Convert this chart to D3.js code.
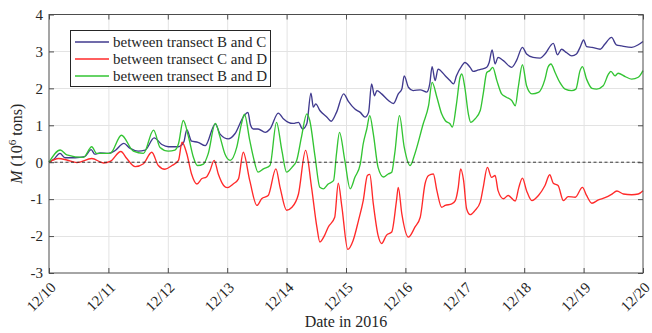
<!DOCTYPE html>
<html>
<head>
<meta charset="utf-8">
<script src="https://cdn.jsdelivr.net/npm/d3@7"></script>
<style>
  html, body { margin: 0; padding: 0; background: #fff; }
  svg { display: block; }
  text { font-family: "Liberation Serif", "Times New Roman", serif; fill: #262626; }
</style>
</head>
<body>
<svg id="chart" width="652" height="333"></svg>
<script>
// Time in days after 12/10 00:00, value in 10^6 tons
const dayTicks = ["12/10", "12/11", "12/12", "12/13", "12/14", "12/15", "12/16", "12/17", "12/18", "12/19", "12/20"];
const valueTicks = [-3, -2, -1, 0, 1, 2, 3, 4];

const seriesNames = ["between transect B and C", "between transect C and D", "between transect B and D"];
const seriesColors = ["#403a8e", "#ff2a2a", "#33c433"];

const transectBC = [
  [0,0],[0.08,0.08],[0.185,0.24],[0.27,0.12],[0.44,0.12],[0.6,0.15],[0.71,0.34],[0.77,0.22],[0.86,0.25],[1.0,0.24],
  [1.11,0.31],[1.26,0.51],[1.36,0.38],[1.5,0.3],[1.62,0.33],[1.77,0.66],[1.9,0.48],[2.01,0.42],[2.18,0.42],[2.27,0.55],
  [2.32,0.88],[2.4,0.57],[2.51,0.54],[2.63,0.45],[2.8,1.04],[2.88,0.76],[3.02,0.63],[3.13,0.77],[3.28,1.25],[3.35,1.35],
  [3.39,1.02],[3.44,0.9],[3.52,0.9],[3.64,0.81],[3.72,0.9],[3.86,1.33],[3.95,1.17],[4.03,1.08],[4.11,1.05],[4.2,1.08],
  [4.27,0.9],[4.34,1.04],[4.41,1.87],[4.45,1.49],[4.49,1.58],[4.56,1.4],[4.68,1.22],[4.75,1.11],[4.84,1.35],[4.96,1.85],
  [5.04,1.65],[5.15,1.44],[5.24,1.35],[5.32,1.22],[5.38,1.35],[5.43,2.12],[5.48,1.8],[5.52,1.94],[5.6,1.85],[5.71,1.68],
  [5.8,1.59],[5.88,1.85],[5.94,1.98],[5.98,2.34],[6.05,2.03],[6.13,1.94],[6.25,1.96],[6.36,1.9],[6.41,2.12],[6.45,2.59],
  [6.5,2.21],[6.55,2.52],[6.67,2.34],[6.75,2.21],[6.81,2.12],[6.86,2.34],[6.95,2.61],[7.0,2.7],[7.09,2.57],[7.14,2.46],
  [7.23,2.5],[7.28,2.52],[7.37,2.57],[7.41,2.7],[7.46,3.04],[7.51,2.66],[7.56,2.84],[7.65,2.75],[7.79,2.57],[7.87,2.75],
  [7.97,3.11],[8.04,2.93],[8.15,2.84],[8.27,2.82],[8.35,2.93],[8.49,3.22],[8.56,2.91],[8.63,3.06],[8.71,2.97],[8.8,2.88],
  [8.88,2.93],[8.94,3.11],[9.0,3.31],[9.05,3.13],[9.14,3.11],[9.28,3.06],[9.36,3.2],[9.47,3.38],[9.55,3.18],[9.64,3.15],
  [9.81,3.11],[9.92,3.18],[10,3.27]
];

const transectCD = [
  [0,0],[0.16,0.1],[0.3,0.06],[0.47,-0.01],[0.72,0.1],[0.92,-0.02],[1.03,0.02],[1.21,0.29],[1.31,0.1],[1.45,-0.12],
  [1.59,-0.04],[1.73,0.27],[1.84,-0.09],[1.95,-0.19],[2.07,-0.09],[2.18,0.05],[2.24,0.54],[2.32,0.23],[2.4,-0.32],[2.49,-0.59],
  [2.57,-0.45],[2.65,-0.4],[2.71,-0.23],[2.78,0.05],[2.85,-0.32],[2.94,-0.63],[3.0,-0.69],[3.1,-0.59],[3.19,-0.45],[3.27,0.27],
  [3.38,-0.5],[3.5,-1.17],[3.58,-0.99],[3.69,-0.9],[3.82,-0.18],[3.89,-0.68],[4.0,-1.3],[4.09,-1.22],[4.2,-0.86],[4.32,0.32],
  [4.42,-0.68],[4.51,-1.76],[4.56,-2.16],[4.64,-1.98],[4.7,-1.76],[4.81,-1.49],[4.87,-0.57],[4.93,-1.2],[5.03,-2.36],[5.12,-2.12],
  [5.21,-1.58],[5.29,-1.04],[5.36,-0.36],[5.4,-0.33],[5.46,-1.13],[5.54,-1.98],[5.6,-2.2],[5.68,-1.98],[5.77,-1.89],[5.85,-1.04],
  [5.88,-0.68],[5.94,-1.4],[6.05,-2.03],[6.16,-1.76],[6.25,-1.49],[6.33,-0.59],[6.39,-0.36],[6.47,-0.32],[6.53,-0.77],[6.61,-1.22],
  [6.67,-1.17],[6.78,-1.13],[6.84,-1.04],[6.89,-0.68],[6.93,-0.18],[6.98,-0.5],[7.03,-1.26],[7.09,-1.42],[7.17,-1.31],[7.26,-1.08],
  [7.31,-0.68],[7.38,-0.14],[7.45,-0.41],[7.51,-0.36],[7.56,-0.77],[7.65,-0.99],[7.73,-0.9],[7.85,-1.05],[7.91,-0.68],[7.97,-0.43],
  [8.04,-0.77],[8.13,-1.04],[8.24,-0.9],[8.35,-0.63],[8.43,-0.34],[8.49,-0.57],[8.57,-0.63],[8.66,-1.04],[8.74,-0.93],[8.86,-0.95],
  [8.98,-0.68],[9.05,-0.9],[9.14,-1.11],[9.25,-1.02],[9.36,-0.96],[9.47,-0.87],[9.56,-0.78],[9.67,-0.86],[9.81,-0.88],[9.92,-0.86],
  [10,-0.77]
];

const transectBD = [
  [0,0],[0.19,0.33],[0.3,0.2],[0.58,0.13],[0.72,0.42],[0.8,0.24],[1.03,0.24],[1.22,0.73],[1.42,0.3],[1.59,0.24],
  [1.76,0.87],[1.87,0.4],[2.01,0.3],[2.12,0.33],[2.18,0.5],[2.26,1.13],[2.35,0.68],[2.43,0.14],[2.5,-0.09],[2.6,-0.05],
  [2.68,0.23],[2.8,1.05],[2.88,0.68],[2.96,0.23],[3.05,0.05],[3.16,0.4],[3.24,1.04],[3.29,1.3],[3.38,0.59],[3.44,0.14],
  [3.52,-0.27],[3.61,-0.18],[3.72,-0.09],[3.83,1.08],[3.92,0.32],[4.0,-0.27],[4.09,-0.14],[4.17,0.05],[4.25,0.68],[4.34,1.31],
  [4.39,1.13],[4.48,0.14],[4.56,-0.68],[4.62,-0.72],[4.7,-0.59],[4.79,-0.5],[4.84,0.23],[4.89,0.81],[4.98,0.05],[5.07,-0.72],
  [5.15,-0.41],[5.24,-0.05],[5.29,0.5],[5.35,0.9],[5.4,1.26],[5.46,0.77],[5.54,-0.14],[5.63,-0.4],[5.71,-0.32],[5.77,-0.27],
  [5.82,0.23],[5.9,1.26],[5.98,0.41],[6.08,-0.09],[6.16,0.23],[6.3,1.04],[6.39,1.53],[6.45,2.16],[6.53,1.76],[6.61,1.31],
  [6.67,1.13],[6.75,1.04],[6.79,0.95],[6.86,1.58],[6.92,2.3],[6.95,2.39],[7.0,2.03],[7.06,1.31],[7.1,1.08],[7.17,1.17],
  [7.26,1.4],[7.31,1.85],[7.37,2.43],[7.42,2.48],[7.47,2.57],[7.54,2.21],[7.62,1.85],[7.7,1.76],[7.79,1.67],[7.85,1.53],
  [7.9,2.03],[7.97,2.64],[8.04,2.07],[8.13,1.85],[8.24,1.89],[8.35,2.25],[8.4,2.57],[8.45,2.66],[8.52,2.43],[8.6,2.16],
  [8.69,1.98],[8.8,1.94],[8.87,1.98],[8.94,2.48],[8.98,2.59],[9.05,2.25],[9.14,2.0],[9.22,1.98],[9.33,2.07],[9.42,2.39],
  [9.46,2.46],[9.53,2.34],[9.58,2.41],[9.7,2.32],[9.81,2.25],[9.92,2.3],[10,2.48]
];

const allSeries = [transectBC, transectCD, transectBD];

const svg = d3.select("#chart");
const margin = { left: 49, right: 9, top: 14.5, bottom: 60 };
const W = 652, H = 333;
const x0 = margin.left, x1 = W - margin.right;
const y0 = margin.top, y1 = H - margin.bottom;

const x = d3.scaleLinear().domain([0, dayTicks.length - 1]).range([x0, x1]);
const y = d3.scaleLinear().domain([valueTicks[0], valueTicks[valueTicks.length - 1]]).range([y1, y0]);
const dayIdx = d3.range(dayTicks.length);

// grid
const grid = svg.append("g").attr("stroke", "#e3e3e3").attr("stroke-width", 1);
grid.selectAll("line.v").data(dayIdx.slice(1, -1)).join("line")
  .attr("x1", d => x(d) + 0.5).attr("x2", d => x(d) + 0.5).attr("y1", y0).attr("y2", y1);
grid.selectAll("line.h").data(valueTicks.slice(1, -1)).join("line")
  .attr("y1", d => Math.round(y(d)) + 0.5).attr("y2", d => Math.round(y(d)) + 0.5).attr("x1", x0).attr("x2", x1);

// series
const line = d3.line().x(d => x(d[0])).y(d => y(d[1])).curve(d3.curveMonotoneX);
svg.append("g").selectAll("path").data(allSeries).join("path")
  .attr("d", line).attr("fill", "none")
  .attr("stroke", (d, i) => seriesColors[i]).attr("stroke-width", 1.35)
  .attr("stroke-linejoin", "round");

// zero reference
svg.append("line")
  .attr("x1", x0).attr("x2", x1).attr("y1", y(0)).attr("y2", y(0))
  .attr("stroke", "#222").attr("stroke-width", 0.9).attr("stroke-dasharray", "3,2.5");

// axes
const axisColor = "#4d4d4d";
const tickLen = 5;
const xAxis = d3.axisBottom(x).tickValues(dayIdx).tickFormat(i => dayTicks[i]).tickSizeInner(-tickLen).tickSizeOuter(0).tickPadding(6);
const gx = svg.append("g").attr("transform", `translate(0,${y1})`).call(xAxis);
gx.select(".domain").remove();
gx.selectAll(".tick line").attr("stroke", axisColor);
gx.selectAll(".tick text")
  .attr("font-size", 15).attr("fill", "#262626")
  .attr("text-anchor", "end")
  .attr("transform", "translate(1.5,9.5) rotate(-45)")
  .attr("dy", "0.55em").attr("y", 0).attr("x", 0);

const gxTop = svg.append("g").attr("transform", `translate(0,${y0})`)
  .call(d3.axisTop(x).tickValues(dayIdx).tickFormat("").tickSizeInner(-tickLen).tickSizeOuter(0));
gxTop.select(".domain").remove();
gxTop.selectAll(".tick line").attr("stroke", axisColor);

const yAxis = d3.axisLeft(y).tickValues(valueTicks).tickFormat(d => d < 0 ? "-" + Math.abs(d) : d).tickSizeInner(-tickLen).tickSizeOuter(0).tickPadding(6);
const gy = svg.append("g").attr("transform", `translate(${x0},0)`).call(yAxis);
gy.select(".domain").remove();
gy.selectAll(".tick line").attr("stroke", axisColor);
gy.selectAll(".tick text").attr("font-size", 15).attr("fill", "#262626");

const gyRight = svg.append("g").attr("transform", `translate(${x1},0)`)
  .call(d3.axisRight(y).tickValues(valueTicks).tickFormat("").tickSizeInner(-tickLen).tickSizeOuter(0));
gyRight.select(".domain").remove();
gyRight.selectAll(".tick line").attr("stroke", axisColor);

svg.append("rect").attr("x", x0).attr("y", y0).attr("width", x1 - x0).attr("height", y1 - y0)
  .attr("fill", "none").attr("stroke", axisColor).attr("stroke-width", 1);

// axis titles
svg.append("text").attr("x", (x0 + x1) / 2).attr("y", 327).attr("text-anchor", "middle")
  .attr("font-size", 16).text("Date in 2016");

const yt = svg.append("text").attr("transform", `translate(22,${(y0 + y1) / 2}) rotate(-90)`)
  .attr("text-anchor", "middle").attr("font-size", 16);
yt.append("tspan").attr("font-style", "italic").text("M");
yt.append("tspan").text(" (10");
yt.append("tspan").attr("font-size", 11).attr("dy", -6).text("6");
yt.append("tspan").attr("dy", 6).text(" tons)");

// legend
const lg = svg.append("g");
lg.append("rect").attr("x", 70.5).attr("y", 30.5).attr("width", 200).attr("height", 56)
  .attr("fill", "#fff").attr("stroke", "#262626").attr("stroke-width", 1);
seriesNames.forEach((name, i) => {
  const ly = 42 + i * 17;
  lg.append("line").attr("x1", 75).attr("x2", 109).attr("y1", ly).attr("y2", ly)
    .attr("stroke", seriesColors[i]).attr("stroke-width", 1.35);
  lg.append("text").attr("x", 113).attr("y", ly).attr("dy", "0.35em")
    .attr("font-size", 15).text(name);
});
</script>
</body>
</html>
